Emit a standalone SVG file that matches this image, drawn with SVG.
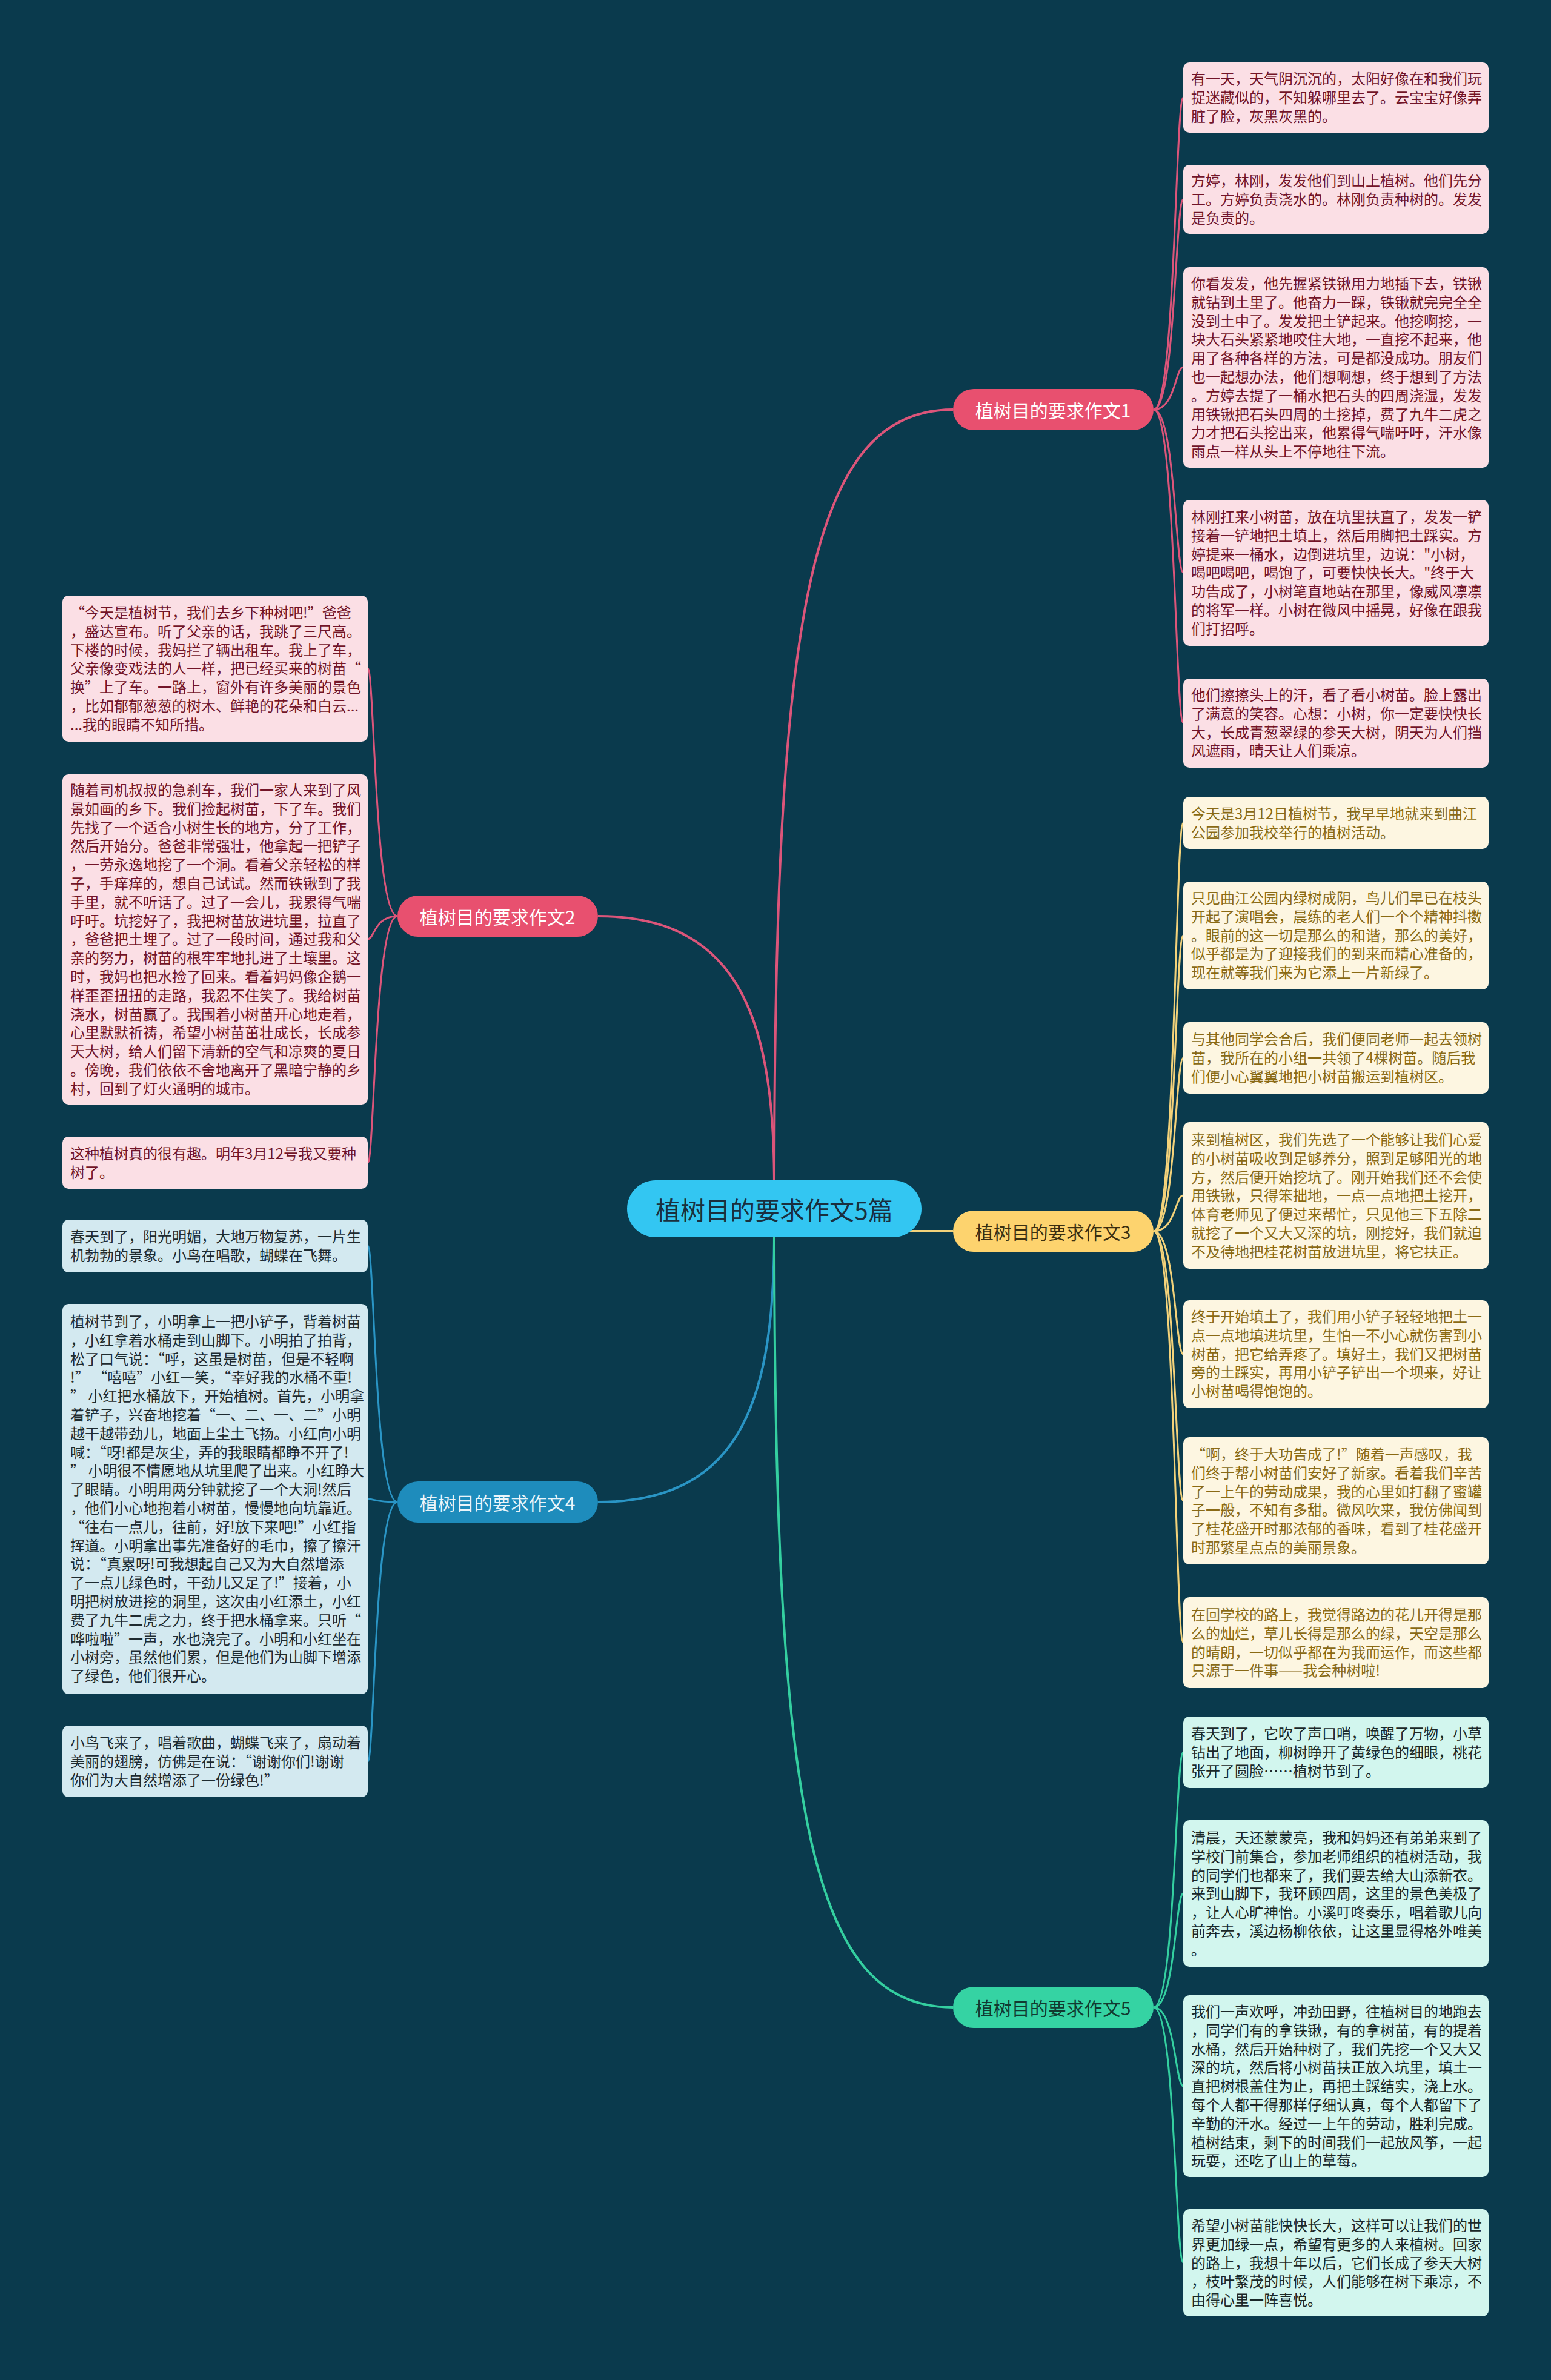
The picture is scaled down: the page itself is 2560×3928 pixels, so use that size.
<svg xmlns="http://www.w3.org/2000/svg" width="2560" height="3928" viewBox="0 0 2560 3928">
<style>
text{font-family:"Noto Sans CJK SC","Noto Sans",sans-serif;}
.leaf text{font-size:24px;}
.lp rect{fill:#fbdfe5;} .lp text{fill:#721428;}
.ly rect{fill:#fdf6e1;} .ly text{fill:#8a6a14;}
.lb rect{fill:#d3e9f0;} .lb text{fill:#1e2b30;}
.lg rect{fill:#d2f6ee;} .lg text{fill:#1a2828;}
.br text{font-size:30px;text-anchor:middle;dominant-baseline:central;}
.cp{stroke:#dc557a;} .cy{stroke:#f3d27a;} .cb{stroke:#2a95c5;} .cg{stroke:#34cfa0;}
#connectors path{fill:none;}
.main{stroke-width:4;} .sub{stroke-width:3;}
</style>
<rect x="0" y="0" width="2560" height="3928" fill="#0a3a4d"/>
<g id="connectors">
<path class="cp main" d="M1278,1960 C1278,1000 1340,676 1573,676"/>
<path class="cp main" d="M1278,1960 C1278,1700 1230,1512 987,1512"/>
<path class="cy main" d="M1480,2032 L1573,2032"/>
<path class="cb main" d="M1278,2030 C1278,2300 1230,2479 987,2479"/>
<path class="cg main" d="M1278,2030 C1278,3000 1340,3313 1573,3313"/>
<path class="cp sub" d="M1904,676 C1940,676 1940,161 1953,161"/>
<path class="cp sub" d="M1904,676 C1940,676 1940,329 1953,329"/>
<path class="cp sub" d="M1904,676 C1940,676 1940,606 1953,606"/>
<path class="cp sub" d="M1904,676 C1940,676 1940,945 1953,945"/>
<path class="cp sub" d="M1904,676 C1940,676 1940,1193 1953,1193"/>
<path class="cp sub" d="M656,1512 C618,1512 618,1103 607,1103"/>
<path class="cp sub" d="M656,1512 C618,1512 618,1550 607,1550"/>
<path class="cp sub" d="M656,1512 C618,1512 618,1919 607,1919"/>
<path class="cy sub" d="M1904,2032 C1940,2032 1940,1358 1953,1358"/>
<path class="cy sub" d="M1904,2032 C1940,2032 1940,1544 1953,1544"/>
<path class="cy sub" d="M1904,2032 C1940,2032 1940,1746 1953,1746"/>
<path class="cy sub" d="M1904,2032 C1940,2032 1940,1973 1953,1973"/>
<path class="cy sub" d="M1904,2032 C1940,2032 1940,2235 1953,2235"/>
<path class="cy sub" d="M1904,2032 C1940,2032 1940,2477 1953,2477"/>
<path class="cy sub" d="M1904,2032 C1940,2032 1940,2711 1953,2711"/>
<path class="cb sub" d="M656,2479 C618,2479 618,2056 607,2056"/>
<path class="cb sub" d="M656,2479 C618,2479 618,2474 607,2474"/>
<path class="cb sub" d="M656,2479 C618,2479 618,2907 607,2907"/>
<path class="cg sub" d="M1904,3313 C1940,3313 1940,2892 1953,2892"/>
<path class="cg sub" d="M1904,3313 C1940,3313 1940,3125 1953,3125"/>
<path class="cg sub" d="M1904,3313 C1940,3313 1940,3443 1953,3443"/>
<path class="cg sub" d="M1904,3313 C1940,3313 1940,3734 1953,3734"/>
</g>
<g id="center">
<rect x="1035" y="1948" width="486" height="94" rx="47" fill="#33c6f2"/>
<text x="1278" y="1995" font-size="41" text-anchor="middle" dominant-baseline="central" fill="#1a2f3e">植树目的要求作文5篇</text>
</g>
<g id="b1" class="br"><rect x="1573" y="642" width="331" height="68" rx="34" fill="#e8506f"/><text x="1738" y="676" fill="#ffffff">植树目的要求作文1</text></g>
<g id="b2" class="br"><rect x="656" y="1478" width="331" height="68" rx="34" fill="#e8506f"/><text x="821" y="1512" fill="#ffffff">植树目的要求作文2</text></g>
<g id="b3" class="br"><rect x="1573" y="1998" width="331" height="68" rx="34" fill="#fdd36e"/><text x="1738" y="2032" fill="#3b2e10">植树目的要求作文3</text></g>
<g id="b4" class="br"><rect x="656" y="2445" width="331" height="68" rx="34" fill="#1e8cbc"/><text x="821" y="2479" fill="#eaf5fa">植树目的要求作文4</text></g>
<g id="b5" class="br"><rect x="1573" y="3279" width="331" height="68" rx="34" fill="#35d3a3"/><text x="1738" y="3313" fill="#123a30">植树目的要求作文5</text></g>

<g id="l1a" class="leaf lp"><rect x="1953" y="103" width="504" height="116" rx="10"/><text x="1966" y="139"><tspan x="1966">有一天，天气阴沉沉的，太阳好像在和我们玩</tspan><tspan x="1966" dy="30.8">捉迷藏似的，不知躲哪里去了。云宝宝好像弄</tspan><tspan x="1966" dy="30.8">脏了脸，灰黑灰黑的。</tspan></text></g>
<g id="l1b" class="leaf lp"><rect x="1953" y="272" width="504" height="114" rx="10"/><text x="1966" y="307"><tspan x="1966">方婷，林刚，发发他们到山上植树。他们先分</tspan><tspan x="1966" dy="30.8">工。方婷负责浇水的。林刚负责种树的。发发</tspan><tspan x="1966" dy="30.8">是负责的。</tspan></text></g>
<g id="l1c" class="leaf lp"><rect x="1953" y="441" width="504" height="331" rx="10"/><text x="1966" y="477"><tspan x="1966">你看发发，他先握紧铁锹用力地插下去，铁锹</tspan><tspan x="1966" dy="30.8">就钻到土里了。他奋力一踩，铁锹就完完全全</tspan><tspan x="1966" dy="30.8">没到土中了。发发把土铲起来。他挖啊挖，一</tspan><tspan x="1966" dy="30.8">块大石头紧紧地咬住大地，一直挖不起来，他</tspan><tspan x="1966" dy="30.8">用了各种各样的方法，可是都没成功。朋友们</tspan><tspan x="1966" dy="30.8">也一起想办法，他们想啊想，终于想到了方法</tspan><tspan x="1966" dy="30.8">。方婷去提了一桶水把石头的四周浇湿，发发</tspan><tspan x="1966" dy="30.8">用铁锹把石头四周的土挖掉，费了九牛二虎之</tspan><tspan x="1966" dy="30.8">力才把石头挖出来，他累得气喘吁吁，汗水像</tspan><tspan x="1966" dy="30.8">雨点一样从头上不停地往下流。</tspan></text></g>
<g id="l1d" class="leaf lp"><rect x="1953" y="825" width="504" height="241" rx="10"/><text x="1966" y="862"><tspan x="1966">林刚扛来小树苗，放在坑里扶直了，发发一铲</tspan><tspan x="1966" dy="30.8">接着一铲地把土填上，然后用脚把土踩实。方</tspan><tspan x="1966" dy="30.8">婷提来一桶水，边倒进坑里，边说："小树，</tspan><tspan x="1966" dy="30.8">喝吧喝吧，喝饱了，可要快快长大。"终于大</tspan><tspan x="1966" dy="30.8">功告成了，小树笔直地站在那里，像威风凛凛</tspan><tspan x="1966" dy="30.8">的将军一样。小树在微风中摇晃，好像在跟我</tspan><tspan x="1966" dy="30.8">们打招呼。</tspan></text></g>
<g id="l1e" class="leaf lp"><rect x="1953" y="1120" width="504" height="147" rx="10"/><text x="1966" y="1156"><tspan x="1966">他们擦擦头上的汗，看了看小树苗。脸上露出</tspan><tspan x="1966" dy="30.8">了满意的笑容。心想：小树，你一定要快快长</tspan><tspan x="1966" dy="30.8">大，长成青葱翠绿的参天大树，阴天为人们挡</tspan><tspan x="1966" dy="30.8">风遮雨，晴天让人们乘凉。</tspan></text></g>

<g id="l2a" class="leaf lp"><rect x="103" y="983" width="504" height="241" rx="10"/><text x="116" y="1020"><tspan x="116">“今天是植树节，我们去乡下种树吧!”爸爸</tspan><tspan x="116" dy="30.8">，盛达宣布。听了父亲的话，我跳了三尺高。</tspan><tspan x="116" dy="30.8">下楼的时候，我妈拦了辆出租车。我上了车，</tspan><tspan x="116" dy="30.8">父亲像变戏法的人一样，把已经买来的树苗“</tspan><tspan x="116" dy="30.8">换”上了车。一路上，窗外有许多美丽的景色</tspan><tspan x="116" dy="30.8">，比如郁郁葱葱的树木、鲜艳的花朵和白云...</tspan><tspan x="116" dy="30.8">...我的眼睛不知所措。</tspan></text></g>
<g id="l2b" class="leaf lp"><rect x="103" y="1278" width="504" height="545" rx="10"/><text x="116" y="1313"><tspan x="116">随着司机叔叔的急刹车，我们一家人来到了风</tspan><tspan x="116" dy="30.8">景如画的乡下。我们捡起树苗，下了车。我们</tspan><tspan x="116" dy="30.8">先找了一个适合小树生长的地方，分了工作，</tspan><tspan x="116" dy="30.8">然后开始分。爸爸非常强壮，他拿起一把铲子</tspan><tspan x="116" dy="30.8">，一劳永逸地挖了一个洞。看着父亲轻松的样</tspan><tspan x="116" dy="30.8">子，手痒痒的，想自己试试。然而铁锹到了我</tspan><tspan x="116" dy="30.8">手里，就不听话了。过了一会儿，我累得气喘</tspan><tspan x="116" dy="30.8">吁吁。坑挖好了，我把树苗放进坑里，拉直了</tspan><tspan x="116" dy="30.8">，爸爸把土埋了。过了一段时间，通过我和父</tspan><tspan x="116" dy="30.8">亲的努力，树苗的根牢牢地扎进了土壤里。这</tspan><tspan x="116" dy="30.8">时，我妈也把水捡了回来。看着妈妈像企鹅一</tspan><tspan x="116" dy="30.8">样歪歪扭扭的走路，我忍不住笑了。我给树苗</tspan><tspan x="116" dy="30.8">浇水，树苗赢了。我围着小树苗开心地走着，</tspan><tspan x="116" dy="30.8">心里默默祈祷，希望小树苗茁壮成长，长成参</tspan><tspan x="116" dy="30.8">天大树，给人们留下清新的空气和凉爽的夏日</tspan><tspan x="116" dy="30.8">。傍晚，我们依依不舍地离开了黑暗宁静的乡</tspan><tspan x="116" dy="30.8">村，回到了灯火通明的城市。</tspan></text></g>
<g id="l2c" class="leaf lp"><rect x="103" y="1876" width="504" height="86" rx="10"/><text x="116" y="1913"><tspan x="116">这种植树真的很有趣。明年3月12号我又要种</tspan><tspan x="116" dy="30.8">树了。</tspan></text></g>

<g id="l3a" class="leaf ly"><rect x="1953" y="1315" width="504" height="86" rx="10"/><text x="1966" y="1352"><tspan x="1966">今天是3月12日植树节，我早早地就来到曲江</tspan><tspan x="1966" dy="30.8">公园参加我校举行的植树活动。</tspan></text></g>
<g id="l3b" class="leaf ly"><rect x="1953" y="1455" width="504" height="178" rx="10"/><text x="1966" y="1491"><tspan x="1966">只见曲江公园内绿树成阴，鸟儿们早已在枝头</tspan><tspan x="1966" dy="30.8">开起了演唱会，晨练的老人们一个个精神抖擞</tspan><tspan x="1966" dy="30.8">。眼前的这一切是那么的和谐，那么的美好，</tspan><tspan x="1966" dy="30.8">似乎都是为了迎接我们的到来而精心准备的，</tspan><tspan x="1966" dy="30.8">现在就等我们来为它添上一片新绿了。</tspan></text></g>
<g id="l3c" class="leaf ly"><rect x="1953" y="1687" width="504" height="118" rx="10"/><text x="1966" y="1724"><tspan x="1966">与其他同学会合后，我们便同老师一起去领树</tspan><tspan x="1966" dy="30.8">苗，我所在的小组一共领了4棵树苗。随后我</tspan><tspan x="1966" dy="30.8">们便小心翼翼地把小树苗搬运到植树区。</tspan></text></g>
<g id="l3d" class="leaf ly"><rect x="1953" y="1852" width="504" height="242" rx="10"/><text x="1966" y="1890"><tspan x="1966">来到植树区，我们先选了一个能够让我们心爱</tspan><tspan x="1966" dy="30.8">的小树苗吸收到足够养分，照到足够阳光的地</tspan><tspan x="1966" dy="30.8">方，然后便开始挖坑了。刚开始我们还不会使</tspan><tspan x="1966" dy="30.8">用铁锹，只得笨拙地，一点一点地把土挖开，</tspan><tspan x="1966" dy="30.8">体育老师见了便过来帮忙，只见他三下五除二</tspan><tspan x="1966" dy="30.8">就挖了一个又大又深的坑，刚挖好，我们就迫</tspan><tspan x="1966" dy="30.8">不及待地把桂花树苗放进坑里，将它扶正。</tspan></text></g>
<g id="l3e" class="leaf ly"><rect x="1953" y="2146" width="504" height="178" rx="10"/><text x="1966" y="2182"><tspan x="1966">终于开始填土了，我们用小铲子轻轻地把土一</tspan><tspan x="1966" dy="30.8">点一点地填进坑里，生怕一不小心就伤害到小</tspan><tspan x="1966" dy="30.8">树苗，把它给弄疼了。填好土，我们又把树苗</tspan><tspan x="1966" dy="30.8">旁的土踩实，再用小铲子铲出一个坝来，好让</tspan><tspan x="1966" dy="30.8">小树苗喝得饱饱的。</tspan></text></g>
<g id="l3f" class="leaf ly"><rect x="1953" y="2372" width="504" height="210" rx="10"/><text x="1966" y="2409"><tspan x="1966">“啊，终于大功告成了!”随着一声感叹，我</tspan><tspan x="1966" dy="30.8">们终于帮小树苗们安好了新家。看着我们辛苦</tspan><tspan x="1966" dy="30.8">了一上午的劳动成果，我的心里如打翻了蜜罐</tspan><tspan x="1966" dy="30.8">子一般，不知有多甜。微风吹来，我仿佛闻到</tspan><tspan x="1966" dy="30.8">了桂花盛开时那浓郁的香味，看到了桂花盛开</tspan><tspan x="1966" dy="30.8">时那繁星点点的美丽景象。</tspan></text></g>
<g id="l3g" class="leaf ly"><rect x="1953" y="2636" width="504" height="150" rx="10"/><text x="1966" y="2674"><tspan x="1966">在回学校的路上，我觉得路边的花儿开得是那</tspan><tspan x="1966" dy="30.8">么的灿烂，草儿长得是那么的绿，天空是那么</tspan><tspan x="1966" dy="30.8">的晴朗，一切似乎都在为我而运作，而这些都</tspan><tspan x="1966" dy="30.8">只源于一件事——我会种树啦!</tspan></text></g>

<g id="l4a" class="leaf lb"><rect x="103" y="2013" width="504" height="87" rx="10"/><text x="116" y="2050"><tspan x="116">春天到了，阳光明媚，大地万物复苏，一片生</tspan><tspan x="116" dy="30.8">机勃勃的景象。小鸟在唱歌，蝴蝶在飞舞。</tspan></text></g>
<g id="l4b" class="leaf lb"><rect x="103" y="2152" width="504" height="644" rx="10"/><text x="116" y="2190"><tspan x="116">植树节到了，小明拿上一把小铲子，背着树苗</tspan><tspan x="116" dy="30.8">，小红拿着水桶走到山脚下。小明拍了拍背，</tspan><tspan x="116" dy="30.8">松了口气说：“呼，这虽是树苗，但是不轻啊</tspan><tspan x="116" dy="30.8">!” “嘻嘻”小红一笑，“幸好我的水桶不重!</tspan><tspan x="116" dy="30.8">” 小红把水桶放下，开始植树。首先，小明拿</tspan><tspan x="116" dy="30.8">着铲子，兴奋地挖着“一、二、一、二”小明</tspan><tspan x="116" dy="30.8">越干越带劲儿，地面上尘土飞扬。小红向小明</tspan><tspan x="116" dy="30.8">喊：“呀!都是灰尘，弄的我眼睛都睁不开了!</tspan><tspan x="116" dy="30.8">” 小明很不情愿地从坑里爬了出来。小红睁大</tspan><tspan x="116" dy="30.8">了眼睛。小明用两分钟就挖了一个大洞!然后</tspan><tspan x="116" dy="30.8">，他们小心地抱着小树苗，慢慢地向坑靠近。</tspan><tspan x="116" dy="30.8">“往右一点儿，往前，好!放下来吧!”小红指</tspan><tspan x="116" dy="30.8">挥道。小明拿出事先准备好的毛巾，擦了擦汗</tspan><tspan x="116" dy="30.8">说：“真累呀!可我想起自己又为大自然增添</tspan><tspan x="116" dy="30.8">了一点儿绿色时，干劲儿又足了!”接着，小</tspan><tspan x="116" dy="30.8">明把树放进挖的洞里，这次由小红添土，小红</tspan><tspan x="116" dy="30.8">费了九牛二虎之力，终于把水桶拿来。只听“</tspan><tspan x="116" dy="30.8">哗啦啦”一声，水也浇完了。小明和小红坐在</tspan><tspan x="116" dy="30.8">小树旁，虽然他们累，但是他们为山脚下增添</tspan><tspan x="116" dy="30.8">了绿色，他们很开心。</tspan></text></g>
<g id="l4c" class="leaf lb"><rect x="103" y="2848" width="504" height="118" rx="10"/><text x="116" y="2885"><tspan x="116">小鸟飞来了，唱着歌曲，蝴蝶飞来了，扇动着</tspan><tspan x="116" dy="30.8">美丽的翅膀，仿佛是在说：“谢谢你们!谢谢</tspan><tspan x="116" dy="30.8">你们为大自然增添了一份绿色!”</tspan></text></g>

<g id="l5a" class="leaf lg"><rect x="1953" y="2833" width="504" height="118" rx="10"/><text x="1966" y="2870"><tspan x="1966">春天到了，它吹了声口哨，唤醒了万物，小草</tspan><tspan x="1966" dy="30.8">钻出了地面，柳树睁开了黄绿色的细眼，桃花</tspan><tspan x="1966" dy="30.8">张开了圆脸……植树节到了。</tspan></text></g>
<g id="l5b" class="leaf lg"><rect x="1953" y="3004" width="504" height="242" rx="10"/><text x="1966" y="3042"><tspan x="1966">清晨，天还蒙蒙亮，我和妈妈还有弟弟来到了</tspan><tspan x="1966" dy="30.8">学校门前集合，参加老师组织的植树活动，我</tspan><tspan x="1966" dy="30.8">的同学们也都来了，我们要去给大山添新衣。</tspan><tspan x="1966" dy="30.8">来到山脚下，我环顾四周，这里的景色美极了</tspan><tspan x="1966" dy="30.8">，让人心旷神怡。小溪叮咚奏乐，唱着歌儿向</tspan><tspan x="1966" dy="30.8">前奔去，溪边杨柳依依，让这里显得格外唯美</tspan><tspan x="1966" dy="30.8">。</tspan></text></g>
<g id="l5c" class="leaf lg"><rect x="1953" y="3293" width="504" height="300" rx="10"/><text x="1966" y="3329"><tspan x="1966">我们一声欢呼，冲劲田野，往植树目的地跑去</tspan><tspan x="1966" dy="30.8">，同学们有的拿铁锹，有的拿树苗，有的提着</tspan><tspan x="1966" dy="30.8">水桶，然后开始种树了，我们先挖一个又大又</tspan><tspan x="1966" dy="30.8">深的坑，然后将小树苗扶正放入坑里，填土一</tspan><tspan x="1966" dy="30.8">直把树根盖住为止，再把土踩结实，浇上水。</tspan><tspan x="1966" dy="30.8">每个人都干得那样仔细认真，每个人都留下了</tspan><tspan x="1966" dy="30.8">辛勤的汗水。经过一上午的劳动，胜利完成。</tspan><tspan x="1966" dy="30.8">植树结束，剩下的时间我们一起放风筝，一起</tspan><tspan x="1966" dy="30.8">玩耍，还吃了山上的草莓。</tspan></text></g>
<g id="l5d" class="leaf lg"><rect x="1953" y="3646" width="504" height="177" rx="10"/><text x="1966" y="3682"><tspan x="1966">希望小树苗能快快长大，这样可以让我们的世</tspan><tspan x="1966" dy="30.8">界更加绿一点，希望有更多的人来植树。回家</tspan><tspan x="1966" dy="30.8">的路上，我想十年以后，它们长成了参天大树</tspan><tspan x="1966" dy="30.8">，枝叶繁茂的时候，人们能够在树下乘凉，不</tspan><tspan x="1966" dy="30.8">由得心里一阵喜悦。</tspan></text></g>
</svg>
